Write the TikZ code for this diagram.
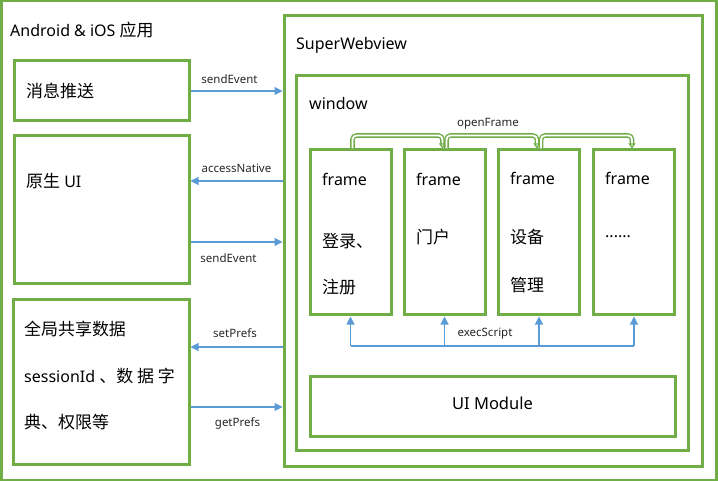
\documentclass[tikz,border=0pt]{standalone}
\usepackage{fontspec}
\setmainfont{Noto Sans}
\newfontfamily\cjk{Noto Sans CJK SC}[Scale=1.06]
\usetikzlibrary{arrows.meta,calc}
\definecolor{gr}{HTML}{70AD47}
\definecolor{bl}{HTML}{5B9BD5}
\begin{document}
\begin{tikzpicture}[x=1pt,y=-1pt,
  box/.style={draw=gr,line width=3pt,inner sep=0pt,rectangle},
  txt/.style={font=\fontsize{16}{19}\selectfont,inner sep=0pt,anchor=west},
  lbl/.style={font=\fontsize{11.5}{14}\selectfont,inner sep=0pt,text=black!85},
  barrow/.style={draw=bl,line width=1.1pt,-{Triangle[length=8pt,width=8pt]}},
  bline/.style={draw=bl,line width=1.1pt},
  garrow/.style={draw=gr,double=white,line width=1.4pt,double distance=1.8pt,rounded corners=4pt,-{Triangle[open,length=5pt,width=7pt]}},
  frm/.style={box,minimum width=81pt,minimum height=165pt}]
\useasboundingbox (0,0) rectangle (718,481);
\node[box,minimum width=715pt,minimum height=479pt] (app) at (358.5,240.5) {};
\node[box,minimum width=418pt,minimum height=450pt] (sw) at (493,241) {};
\node[box,minimum width=392pt,minimum height=374pt] (win) at (492,263) {};
\node[box,minimum width=365pt,minimum height=60pt] (uim) at (492.5,406) {};
\node[txt,anchor=center,font=\fontsize{16.5}{20}\selectfont] (tuim) at (492.5,403) {UI Module};
\node[box,minimum width=175pt,minimum height=60pt] (msg) at (101.5,91) {};
\node[box,minimum width=175pt,minimum height=148pt] (ui) at (101.5,210) {};
\node[box,minimum width=176pt,minimum height=164pt] (data) at (101,382) {};
\node[frm] (f1) at (350.5,232.5) {};
\node[frm] (f2) at (444.5,232.5) {};
\node[frm] (f3) at (539,232.5) {};
\node[frm] (f4) at (634,232.5) {};
% texts
\node[txt] (tapp) at (10,30) {Android \& iOS {\cjk 应用}};
\node[txt] (tsw) at (296,45) {SuperWebview};
\node[txt] (twin) at (309,104) {window};
\node[txt] (tmsg) at (26,91) {\cjk 消息推送};
\node[txt] (tui) at (26,181) {{\cjk 原生} UI};
\node[txt] (td1) at (24,329) {\cjk 全局共享数据};
\node[txt] (td2) at (24,376) {sessionId {\cjk 、数 据 字}};
\node[txt] (td3) at (24,422) {\cjk 典、权限等};
\node[txt] (fa1) at (322,179) {frame};
\node[txt] (fa2) at (322,241) {\cjk 登录、};
\node[txt] (fa3) at (322,287) {\cjk 注册};
\node[txt] (fb1) at (416,179) {frame};
\node[txt] (fb2) at (416,237) {\cjk 门户};
\node[txt] (fc1) at (510,178) {frame};
\node[txt] (fc2) at (510,237) {\cjk 设备};
\node[txt] (fc3) at (510,285) {\cjk 管理};
\node[txt] (fd1) at (605,178) {frame};
\node[txt] (fd2) at (605,237) {......};
% blue connectors
\coordinate (ya) at (0,181);
\coordinate (yb) at (0,242);
\coordinate (yc) at (0,347);
\coordinate (yd) at (0,407);
\draw[barrow] (msg.east) -- (msg.east -| sw.west);
\draw[barrow] (sw.west |- ya) -- (ui.east |- ya);
\draw[barrow] (ui.east |- yb) -- (sw.west |- yb);
\draw[barrow] (sw.west |- yc) -- (data.east |- yc);
\draw[barrow] (data.east |- yd) -- (sw.west |- yd);
\node[lbl] (l1) at (229.5,78.7) {sendEvent};
\node[lbl] (l2) at (236.5,168) {accessNative};
\node[lbl] (l3) at (228.5,258) {sendEvent};
\node[lbl] (l4) at (235,333) {setPrefs};
\node[lbl] (l5) at (237.5,423) {getPrefs};
% execScript
\coordinate (bus) at (0,346);
\draw[bline] (f1.south |- bus) -- (f4.south |- bus);
\foreach \f in {f1,f2,f3,f4}{\draw[barrow] (\f.south |- bus) -- (\f.south);}
\node[lbl] (lex) at (485,334) {execScript};
% openFrame
\draw[garrow] ([xshift=2pt]f1.north) -- ++(0,-13) -| ([xshift=-2pt]f2.north);
\draw[garrow] ([xshift=2pt]f2.north) -- ++(0,-13) -| ([xshift=-2pt]f3.north);
\draw[garrow] ([xshift=2pt]f3.north) -- ++(0,-13) -| ([xshift=-2pt]f4.north);
\node[lbl] (lof) at (488,124) {openFrame};
\end{tikzpicture}
\end{document}
